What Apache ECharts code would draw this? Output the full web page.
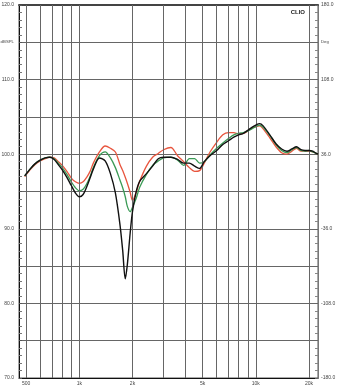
<!DOCTYPE html>
<html>
<head>
<meta charset="utf-8">
<script src="https://cdn.jsdelivr.net/npm/echarts@6/dist/echarts.min.js"></script>
<style>html,body{margin:0;padding:0;background:#fff}#c{width:342px;height:389px}</style>
</head>
<body>
<div id="c"></div>
<script>
const freqs = [490,530,560,600,640,680,720,760,800,850,900,950,1000,1050,1100,1150,1200,1300,1400,1500,1600,1700,1760,1820,1870,1940,2000,2100,2200,2400,2600,2800,3000,3300,3600,3900,4200,4500,4800,5100,5500,6000,6500,7000,7500,8000,8500,9000,9500,10000,10500,11000,12000,13000,14000,15000,16000,17000,18000,19000,20000,21000,22000,22500];
const blackDb = [97.1,98.1,98.7,99.2,99.5,99.6,99.3,98.6,97.9,96.9,95.8,94.8,94.3,94.6,95.6,96.8,98.0,99.5,99.1,97.4,94.8,90.5,87.1,83.3,85.2,89.4,92.3,95.0,96.4,97.4,98.4,99.4,99.6,99.6,99.3,98.8,98.8,98.4,98.1,99.0,99.8,100.5,101.3,101.8,102.3,102.6,102.8,103.2,103.6,103.9,104.1,103.8,102.6,101.4,100.7,100.4,100.7,101.0,100.6,100.5,100.5,100.4,100.1,100.0];
const greenDb = [97.1,98.1,98.7,99.2,99.5,99.6,99.4,98.8,98.2,97.3,96.3,95.5,95.1,95.3,96.0,97.0,98.2,99.8,100.3,99.5,98.2,96.5,95.5,94.3,93.0,92.3,92.9,94.1,95.6,97.3,98.5,99.1,99.5,99.6,99.2,98.5,99.4,99.4,98.8,99.0,99.9,100.8,101.5,102.1,102.6,102.8,102.9,103.1,103.4,103.7,103.9,103.6,102.5,101.3,100.5,100.2,100.6,100.9,100.5,100.4,100.5,100.3,100.1,100.0];
const redDb = [97.0,98.0,98.6,99.1,99.4,99.6,99.5,99.0,98.5,97.7,96.8,96.3,96.1,96.3,96.9,97.7,98.8,100.3,101.1,100.8,100.3,98.6,97.8,96.9,96.1,94.9,93.8,94.9,96.4,98.4,99.6,100.1,100.6,100.9,99.8,99.0,98.2,97.7,97.8,98.8,100.3,101.6,102.6,102.9,102.9,102.7,102.8,103.1,103.5,103.7,103.8,103.4,102.2,101.0,100.2,100.0,100.4,100.8,100.4,100.4,100.4,100.3,100.1,100.0];

const gridFreqs = [500,600,700,800,900,1000,2000,3000,4000,5000,6000,7000,8000,9000,10000,20000];
const freqLabels = {500:'500',1000:'1k',2000:'2k',5000:'5k',10000:'10k',20000:'20k'};
const hzLabelFreq = 2650;
const dbLabelValues = [70,80,90,100,110,120];
const dbUnitValue = 115;
const degLabelValues = [180,108,36,-36,-108,-180];
const degUnitValue = 144;

const pair = arr => freqs.map((f,i) => [f, arr[i]]);
const FONT = 'Liberation Sans, Arial, sans-serif';
const labelStyle = {fontSize: 5, color: '#444', fontFamily: FONT};
const unitRich = {u: {fontSize: 4.3, color: '#444', fontFamily: FONT}};

const chart = echarts.init(document.getElementById('c'), null, {renderer: 'canvas'});
const gridMarks = gridFreqs.map(f => ({
  xAxis: f,
  label: {show: !!freqLabels[f], formatter: freqLabels[f] || ''}
}));
gridMarks.push({xAxis: hzLabelFreq, lineStyle: {opacity: 0}, label: {show: true, formatter: 'Hz'}});

chart.setOption({
  animation: false,
  backgroundColor: '#fff',
  title: {text: 'CLIO', right: 32, top: 4, textStyle: {fontSize: 6, fontWeight: 'bold', color: '#222', fontFamily: FONT}},
  grid: {left: 19, right: 24, top: 5, bottom: 11, containLabel: false, outerBoundsMode: 'none', show: true, borderColor: '#555', borderWidth: 1},
  xAxis: [{
    type: 'log', logBase: 10, min: 455, max: 22500,
    axisLine: {show: true, onZero: false, lineStyle: {color: '#111', width: 1}},
    axisTick: {show: false}, axisLabel: {show: false}, splitLine: {show: false}, minorTick: {show: false}
  }, {
    type: 'value', position: 'top', min: 0, max: 1,
    axisLine: {show: true, onZero: false, lineStyle: {color: '#444', width: 2}},
    axisTick: {show: false}, axisLabel: {show: false}, splitLine: {show: false}
  }],
  yAxis: [{
    type: 'value', min: 70, max: 120, interval: 5,
    axisLine: {show: true, onZero: false, lineStyle: {color: '#111', width: 1}},
    axisTick: {show: true, inside: true, length: 3, lineStyle: {color: '#555'}},
    minorTick: {show: true, splitNumber: 5, length: 3, lineStyle: {color: '#777'}},
    splitLine: {show: true, lineStyle: {color: '#666', width: 1}},
    axisLabel: Object.assign({margin: 5, rich: unitRich, formatter: v => {
      const r = Math.round(v);
      if (dbLabelValues.includes(r)) return r.toFixed(1);
      if (r === dbUnitValue) return '{u|dBSPL}';
      return '';
    }}, labelStyle)
  }, {
    type: 'value', position: 'right', min: -180, max: 180, interval: 36,
    axisLine: {show: true, onZero: false, lineStyle: {color: '#777', width: 1}},
    axisTick: {show: true, inside: true, length: 3, lineStyle: {color: '#666'}},
    minorTick: {show: true, splitNumber: 5, length: 3, lineStyle: {color: '#888'}},
    splitLine: {show: false},
    axisLabel: Object.assign({margin: 3, rich: unitRich, formatter: v => {
      const r = Math.round(v);
      if (degLabelValues.includes(r)) return r.toFixed(1);
      if (r === degUnitValue) return '{u|Deg}';
      return '';
    }}, labelStyle)
  }],
  series: [{
    type: 'line', data: [], silent: true, z: 1,
    markLine: {
      silent: true, symbol: ['none', 'none'], animation: false,
      lineStyle: {color: '#666', width: 1, type: 'solid'},
      label: Object.assign({position: 'start', distance: 3}, labelStyle),
      emphasis: {disabled: true},
      data: gridMarks
    }
  }, {
    name: 'red', type: 'line', data: pair(redDb), showSymbol: false, smooth: 0.3, z: 3,
    lineStyle: {color: '#e8553e', width: 1.3}
  }, {
    name: 'green', type: 'line', data: pair(greenDb), showSymbol: false, smooth: 0.3, z: 4,
    lineStyle: {color: '#3a9a55', width: 1.3}
  }, {
    name: 'black', type: 'line', data: pair(blackDb), showSymbol: false, smooth: 0.3, z: 5,
    lineStyle: {color: '#111', width: 1.4}
  }]
});
</script>
</body>
</html>
